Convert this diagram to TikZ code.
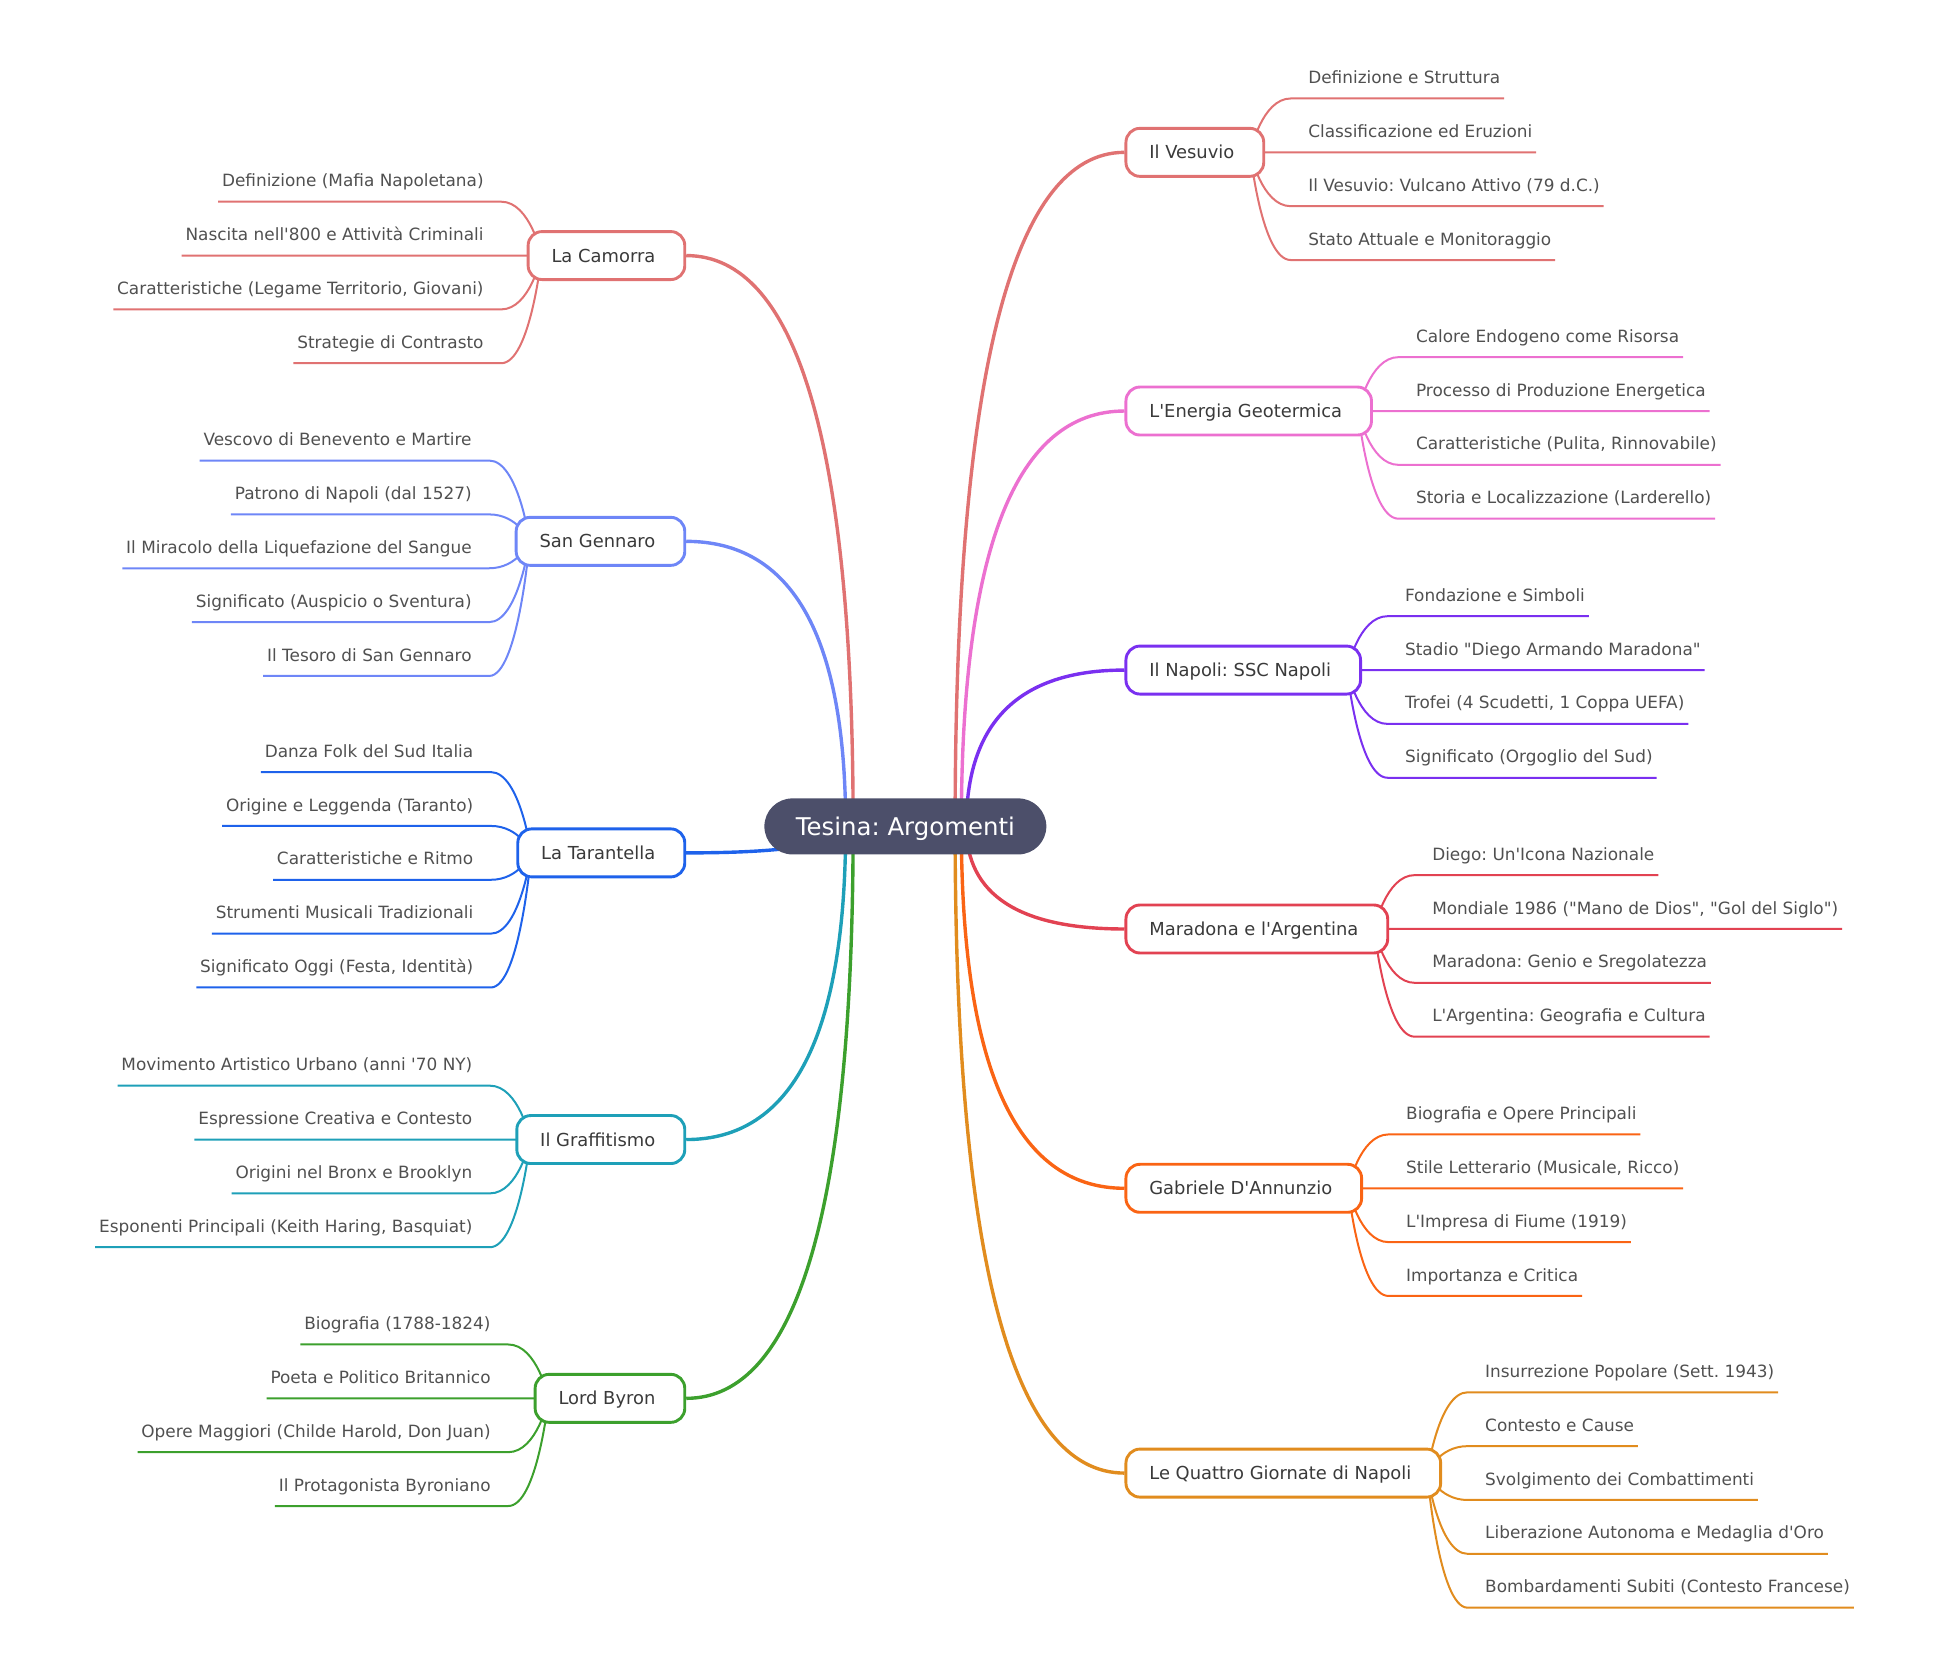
\documentclass[tikz,border=0pt]{standalone}
\usepackage{fontspec}
\usetikzlibrary{calc}
\newfontfamily\djv{DejaVu Sans}
\frenchspacing
\pgfdeclarelayer{bg}
\pgfsetlayers{bg,main}
\definecolor{cVes}{HTML}{E07272}
\definecolor{cEne}{HTML}{EC70D0}
\definecolor{cNap}{HTML}{7A30F0}
\definecolor{cMar}{HTML}{E24252}
\definecolor{cDan}{HTML}{FA6414}
\definecolor{cQua}{HTML}{E18C1E}
\definecolor{cCam}{HTML}{E07272}
\definecolor{cGen}{HTML}{6E86F7}
\definecolor{cTar}{HTML}{1E62EB}
\definecolor{cGra}{HTML}{1EA0B8}
\definecolor{cByr}{HTML}{3CA02D}
\definecolor{rootfill}{HTML}{4C4F6A}
\definecolor{l1text}{HTML}{3A3A3A}
\definecolor{leaftext}{HTML}{505050}
\tikzset{
  l1box/.style={draw, fill=white, line width=2.9pt, rounded corners=14pt,
    minimum height=48pt, inner xsep=23.4pt, inner ysep=0pt,
    text height=14.5pt, text depth=1.5pt,
    font=\djv\fontsize{17.9pt}{21pt}\selectfont, text=l1text},
  leaf/.style={inner sep=0pt, font=\djv\fontsize{16.9pt}{20pt}\selectfont, text=leaftext},
  mainline/.style={line width=3.4pt},
  leafline/.style={line width=2pt},
  rootnode/.style={fill=rootfill, text=white, rounded corners=28pt,
    minimum height=56pt, inner xsep=31.5pt, inner ysep=0pt,
    text height=20pt, text depth=2.2pt,
    font=\djv\fontsize{24.4pt}{28pt}\selectfont}
}
% right-side level-1 branch: name, colour, y, start x, text
\newcommand\MMbranchR[5]{%
  \node[l1box, draw=#2, anchor=west] (#1) at (904.2,#3) {#5\hspace*{6pt}};
  \coordinate (#1s) at (#4,664.5);
  \begin{pgfonlayer}{bg}
  \draw[mainline, draw=#2] (#1s) .. controls ($(#1s)!0.6667!(#1s |- #1.west)$) and ($(#1.west)!0.6667!(#1s |- #1.west)$) .. (#1.west);
  \end{pgfonlayer}
}
\newcommand\MMbranchL[5]{%
  \node[l1box, draw=#2, anchor=east] (#1) at (551.8,#3) {#5\hspace*{6pt}};
  \coordinate (#1s) at (#4,664.5);
  \begin{pgfonlayer}{bg}
  \draw[mainline, draw=#2] (#1s) .. controls ($(#1s)!0.6667!(#1s |- #1.east)$) and ($(#1.east)!0.6667!(#1s |- #1.east)$) .. (#1.east);
  \end{pgfonlayer}
}
% leaves: parent, name, colour, dy, text
\newcommand\MMleafR[5]{%
  \node[leaf, anchor=base west] (#2) at ($(#1.east)+(20.5,#4-12)$) {\hspace*{17.4pt}#5\hspace*{3.7pt}};
  \begin{pgfonlayer}{bg}
  \draw[leafline, draw=#3] ([xshift=-14.9pt]#1.east) .. controls ([xshift=-14.9pt]#1.east) and ([xshift=-29pt,yshift=-14.9pt]#2.base west) .. ([yshift=-14.9pt]#2.base west) -- ([yshift=-14.9pt]#2.base east);
  \end{pgfonlayer}
}
\newcommand\MMleafL[5]{%
  \node[leaf, anchor=base east] (#2) at ($(#1.west)+(-20.5,#4-12)$) {\hspace*{3.7pt}#5\hspace*{17.4pt}};
  \begin{pgfonlayer}{bg}
  \draw[leafline, draw=#3] ([xshift=14.9pt]#1.west) .. controls ([xshift=14.9pt]#1.west) and ([xshift=29pt,yshift=-14.9pt]#2.base east) .. ([yshift=-14.9pt]#2.base east) -- ([yshift=-14.9pt]#2.base west);
  \end{pgfonlayer}
}
\begin{document}
\begin{tikzpicture}[x=1.2436pt, y=-1.2436pt]
\useasboundingbox (0,0) rectangle (1568,1329);

\node[rootnode] (root) at (728,664.5) {Tesina: Argomenti};

% ---------- right side ----------
\MMbranchR{ves}{cVes}{122.5}{768}{Il Vesuvio}
\MMleafR{ves}{ves1}{cVes}{-43.3}{Definizione e Struttura}
\MMleafR{ves}{ves2}{cVes}{0}{Classificazione ed Eruzioni}
\MMleafR{ves}{ves3}{cVes}{43.3}{Il Vesuvio: Vulcano Attivo (79 d.C.)}
\MMleafR{ves}{ves4}{cVes}{86.6}{Stato Attuale e Monitoraggio}

\MMbranchR{ene}{cEne}{330.5}{773}{L'Energia Geotermica}
\MMleafR{ene}{ene1}{cEne}{-43.3}{Calore Endogeno come Risorsa}
\MMleafR{ene}{ene2}{cEne}{0}{Processo di Produzione Energetica}
\MMleafR{ene}{ene3}{cEne}{43.3}{Caratteristiche (Pulita, Rinnovabile)}
\MMleafR{ene}{ene4}{cEne}{86.6}{Storia e Localizzazione (Larderello)}

\MMbranchR{nap}{cNap}{538.8}{777}{Il Napoli: SSC Napoli}
\MMleafR{nap}{nap1}{cNap}{-43.3}{Fondazione e Simboli}
\MMleafR{nap}{nap2}{cNap}{0}{Stadio "Diego Armando Maradona"}
\MMleafR{nap}{nap3}{cNap}{43.3}{Trofei (4 Scudetti, 1 Coppa UEFA)}
\MMleafR{nap}{nap4}{cNap}{86.6}{Significato (Orgoglio del Sud)}

\MMbranchR{mar}{cMar}{747}{777}{Maradona e l'Argentina}
\MMleafR{mar}{mar1}{cMar}{-43.3}{Diego: Un'Icona Nazionale}
\MMleafR{mar}{mar2}{cMar}{0}{Mondiale 1986 ("Mano de Dios", "Gol del Siglo")}
\MMleafR{mar}{mar3}{cMar}{43.3}{Maradona: Genio e Sregolatezza}
\MMleafR{mar}{mar4}{cMar}{86.6}{L'Argentina: Geografia e Cultura}

\MMbranchR{dan}{cDan}{955.5}{773}{Gabriele D'Annunzio}
\MMleafR{dan}{dan1}{cDan}{-43.3}{Biografia e Opere Principali}
\MMleafR{dan}{dan2}{cDan}{0}{Stile Letterario (Musicale, Ricco)}
\MMleafR{dan}{dan3}{cDan}{43.3}{L'Impresa di Fiume (1919)}
\MMleafR{dan}{dan4}{cDan}{86.6}{Importanza e Critica}

\MMbranchR{qua}{cQua}{1184.5}{768}{Le Quattro Giornate di Napoli}
\MMleafR{qua}{qua1}{cQua}{-64.95}{Insurrezione Popolare (Sett. 1943)}
\MMleafR{qua}{qua2}{cQua}{-21.65}{Contesto e Cause}
\MMleafR{qua}{qua3}{cQua}{21.65}{Svolgimento dei Combattimenti}
\MMleafR{qua}{qua4}{cQua}{64.95}{Liberazione Autonoma e Medaglia d'Oro}
\MMleafR{qua}{qua5}{cQua}{108.25}{Bombardamenti Subiti (Contesto Francese)}

% ---------- left side ----------
\MMbranchL{cam}{cCam}{205.5}{686}{La Camorra}
\MMleafL{cam}{cam1}{cCam}{-43.3}{Definizione (Mafia Napoletana)}
\MMleafL{cam}{cam2}{cCam}{0}{Nascita nell'800 e Attività Criminali}
\MMleafL{cam}{cam3}{cCam}{43.3}{Caratteristiche (Legame Territorio, Giovani)}
\MMleafL{cam}{cam4}{cCam}{86.6}{Strategie di Contrasto}

\MMbranchL{gen}{cGen}{435.3}{680}{San Gennaro}
\MMleafL{gen}{gen1}{cGen}{-64.95}{Vescovo di Benevento e Martire}
\MMleafL{gen}{gen2}{cGen}{-21.65}{Patrono di Napoli (dal 1527)}
\MMleafL{gen}{gen3}{cGen}{21.65}{Il Miracolo della Liquefazione del Sangue}
\MMleafL{gen}{gen4}{cGen}{64.95}{Significato (Auspicio o Sventura)}
\MMleafL{gen}{gen5}{cGen}{108.25}{Il Tesoro di San Gennaro}

\MMbranchL{tar}{cTar}{685.8}{676}{La Tarantella}
\MMleafL{tar}{tar1}{cTar}{-64.95}{Danza Folk del Sud Italia}
\MMleafL{tar}{tar2}{cTar}{-21.65}{Origine e Leggenda (Taranto)}
\MMleafL{tar}{tar3}{cTar}{21.65}{Caratteristiche e Ritmo}
\MMleafL{tar}{tar4}{cTar}{64.95}{Strumenti Musicali Tradizionali}
\MMleafL{tar}{tar5}{cTar}{108.25}{Significato Oggi (Festa, Identità)}

\MMbranchL{gra}{cGra}{916.3}{680}{Il Graffitismo}
\MMleafL{gra}{gra1}{cGra}{-43.3}{Movimento Artistico Urbano (anni '70 NY)}
\MMleafL{gra}{gra2}{cGra}{0}{Espressione Creativa e Contesto}
\MMleafL{gra}{gra3}{cGra}{43.3}{Origini nel Bronx e Brooklyn}
\MMleafL{gra}{gra4}{cGra}{86.6}{Esponenti Principali (Keith Haring, Basquiat)}

\MMbranchL{byr}{cByr}{1124.4}{686}{Lord Byron}
\MMleafL{byr}{byr1}{cByr}{-43.3}{Biografia (1788-1824)}
\MMleafL{byr}{byr2}{cByr}{0}{Poeta e Politico Britannico}
\MMleafL{byr}{byr3}{cByr}{43.3}{Opere Maggiori (Childe Harold, Don Juan)}
\MMleafL{byr}{byr4}{cByr}{86.6}{Il Protagonista Byroniano}
\end{tikzpicture}
\end{document}
